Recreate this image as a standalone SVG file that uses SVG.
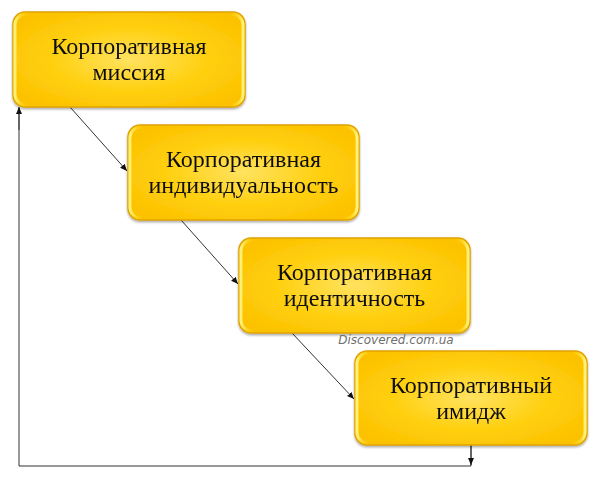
<svg xmlns="http://www.w3.org/2000/svg" width="600" height="478" viewBox="0 0 600 478">
<style>
.box{fill:url(#rg);stroke:#E0A200;stroke-width:1.5}
.bev{fill:none;stroke:url(#lg);stroke-width:3}
.t{font-family:"Liberation Serif","DejaVu Serif",serif;font-size:24px;fill:#111;text-anchor:middle}
.c{fill:none;stroke:#333;stroke-width:1}
.wm{font-family:"DejaVu Sans",Verdana,sans-serif;font-style:italic;font-size:12px;fill:#6f6f6f;text-anchor:middle}
</style>
<defs>
<radialGradient id="rg" cx="0.5" cy="0.5" r="0.6">
<stop offset="0" stop-color="#FFE260"/>
<stop offset="0.55" stop-color="#FFD010"/>
<stop offset="1" stop-color="#FCC200"/>
</radialGradient>
<linearGradient id="lg" x1="0" y1="0" x2="1" y2="0">
<stop offset="0" stop-color="#FFF27A"/>
<stop offset="0.06" stop-color="#FFD000" stop-opacity="0"/>
<stop offset="0.94" stop-color="#FFD000" stop-opacity="0"/>
<stop offset="1" stop-color="#FFF27A"/>
</linearGradient>
<filter id="sh" x="-5%" y="-5%" width="110%" height="115%">
<feDropShadow dx="0" dy="1.5" stdDeviation="1" flood-color="#000" flood-opacity="0.35"/>
</filter>
<marker id="ah" markerWidth="8" markerHeight="8" refX="7" refY="4" orient="auto" markerUnits="userSpaceOnUse">
<path d="M0,1 L7,4 L0,7 z" fill="#111"/>
</marker>
</defs>
<g id="connectors">
<line class="c" x1="70" y1="107" x2="127" y2="171" marker-end="url(#ah)"/>
<line class="c" x1="181" y1="220" x2="238" y2="284" marker-end="url(#ah)"/>
<line class="c" x1="292" y1="333" x2="354" y2="399" marker-end="url(#ah)"/>
<path class="c" d="M471,445 V466 M471,466 H19 V108" />
<line class="c" x1="471" y1="445" x2="471" y2="465" marker-end="url(#ah)"/>
<line class="c" x1="19" y1="130" x2="19" y2="107" marker-end="url(#ah)"/>
</g>
<g id="n1" filter="url(#sh)">
<rect class="box" x="13" y="12" width="232" height="95" rx="12"/>
<rect class="bev" x="15" y="14" width="228" height="91" rx="11"/>
<text class="t" x="129" y="54">Корпоративная</text>
<text class="t" x="129" y="80">миссия</text>
</g>
<g id="n2" filter="url(#sh)">
<rect class="box" x="128" y="125" width="231" height="95" rx="12"/>
<rect class="bev" x="130" y="127" width="227" height="91" rx="11"/>
<text class="t" x="243.5" y="167">Корпоративная</text>
<text class="t" x="243.5" y="193">индивидуальность</text>
</g>
<g id="n3" filter="url(#sh)">
<rect class="box" x="239" y="238" width="231" height="95" rx="12"/>
<rect class="bev" x="241" y="240" width="227" height="91" rx="11"/>
<text class="t" x="354.5" y="280">Корпоративная</text>
<text class="t" x="354.5" y="306">идентичность</text>
</g>
<g id="n4" filter="url(#sh)">
<rect class="box" x="355" y="351" width="232" height="94" rx="12"/>
<rect class="bev" x="357" y="353" width="228" height="90" rx="11"/>
<text class="t" x="471" y="393">Корпоративный</text>
<text class="t" x="471" y="419">имидж</text>
</g>
<text class="wm" x="396" y="344">Discovered.com.ua</text>
</svg>
